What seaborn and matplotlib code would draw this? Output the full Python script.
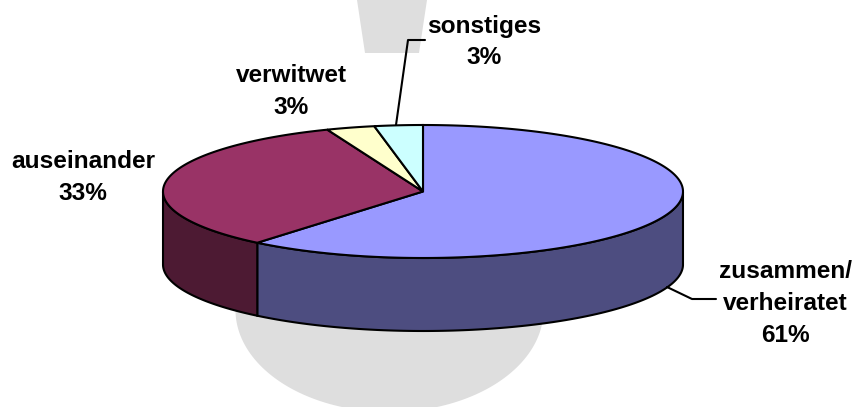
import numpy as np
import matplotlib
matplotlib.use("Agg")
import matplotlib.pyplot as plt
from matplotlib.patches import Polygon
import seaborn as sns

categories = ["zusammen/\nverheiratet", "auseinander", "verwitwet", "sonstiges"]
values = [61, 33, 3, 3]
top_colors = ["#9999FF", "#993366", "#FFFFCC", "#CCFFFF"]
side_colors = ["#4D4D80", "#4D1A33", "#808066", "#668080"]

sns.set_theme(style="white")
plt.rcParams["font.family"] = ["Liberation Sans", "DejaVu Sans"]

W, H = 855, 407
fig = plt.figure(figsize=(W / 100, H / 100), dpi=100)
ax = fig.add_axes([0, 0, 1, 1])

# pixel coordinate system with the pie as a flattened circle
CX, CY, RX, RY, DEPTH = 423, 191.5, 260, 66.5, 73


def ell(a, dy=0):
    a = np.radians(a)
    return CX + RX * np.cos(a), CY - RY * np.sin(a) + dy


# grey watermark behind the pie
ax.add_patch(Polygon([(357, 0), (427, 0), (419, 53), (365, 53)], closed=True, fc="#DEDEDE", ec="none", zorder=0))
t = np.linspace(0, np.pi, 100)
wx = 389.5 + 154 * np.cos(t)
wy = 310 + 102 * np.sin(t)
ax.add_patch(Polygon(np.column_stack([wx, wy]), closed=True, fc="#DEDEDE", ec="none", zorder=0))

# slice angles from values (clockwise from top)
fr = np.cumsum([0] + values) / sum(values)
ang = 90 - 360 * fr

LW = 1.5
# side wall
for i in range(len(values)):
    a0, a1 = ang[i], ang[i + 1]
    a = np.linspace(a0, a1, 200)
    a = a[np.sin(np.radians(a)) <= 0]
    if a.size < 2:
        continue
    x, y = ell(a)
    x2, y2 = ell(a, DEPTH)
    pts = np.column_stack([np.r_[x, x2[::-1]], np.r_[y, y2[::-1]]])
    ax.add_patch(Polygon(pts, closed=True, fc=side_colors[i], ec="black", lw=LW, zorder=2))

# top face
for i in range(len(values)):
    a = np.linspace(ang[i], ang[i + 1], 200)
    x, y = ell(a)
    pts = np.column_stack([np.r_[CX, x], np.r_[CY, y]])
    ax.add_patch(Polygon(pts, closed=True, fc=top_colors[i], ec="black", lw=LW, zorder=3))

# labels
fs = 17.6
lab_pos = [(785, 303), (83, 177), (291, 91), (484, 42)]
for i, (c, v) in enumerate(zip(categories, values)):
    ax.text(lab_pos[i][0], lab_pos[i][1], f"{c}\n{v}%", ha="center", va="center",
            fontsize=fs, fontweight="bold", color="black", linespacing=1.5, zorder=5)

# leader lines
ax.plot([667, 692, 716], [287, 299, 299], color="black", lw=LW, zorder=4)
ax.plot([396, 408, 425], [125, 40, 40], color="black", lw=LW, zorder=4)

ax.set_xlim(0, W)
ax.set_ylim(H, 0)
ax.axis("off")
fig.savefig("out.png", dpi=100, facecolor="white")
